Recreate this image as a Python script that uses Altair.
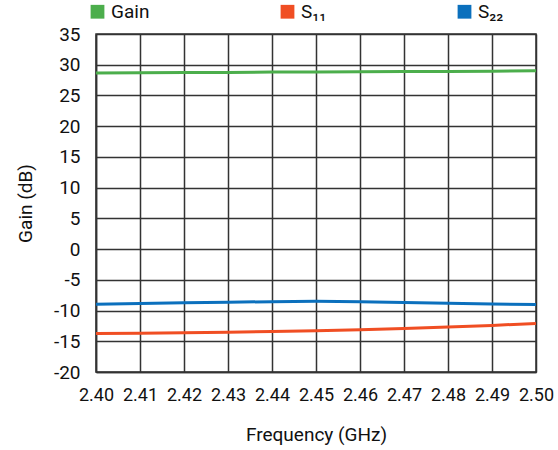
import altair as alt
import pandas as pd

freq = [2.40, 2.41, 2.42, 2.43, 2.44, 2.45, 2.46, 2.47, 2.48, 2.49, 2.50]
gain = [28.65, 28.7, 28.72, 28.75, 28.8, 28.82, 28.85, 28.88, 28.9, 28.95, 29.0]
s11 = [-13.75, -13.7, -13.62, -13.52, -13.42, -13.28, -13.12, -12.92, -12.68, -12.42, -12.1]
s22 = [-8.97, -8.85, -8.75, -8.65, -8.55, -8.5, -8.55, -8.68, -8.82, -8.95, -9.02]

series_names = ["Gain", "S₁₁", "S₂₂"]
colors = ["#4cae4c", "#f04e23", "#0b70bd"]
x_ticks = [2.40, 2.41, 2.42, 2.43, 2.44, 2.45, 2.46, 2.47, 2.48, 2.49, 2.50]
y_ticks = [35, 30, 25, 20, 15, 10, 5, 0, -5, -10, -15, -20]

rows = []
for name, vals in zip(series_names, [gain, s11, s22]):
    for f, v in zip(freq, vals):
        rows.append({"Frequency": f, "Value": v, "Series": name})
df = pd.DataFrame(rows)

FONT = "Roboto, sans-serif"

x_enc = alt.X("Frequency:Q",
              scale=alt.Scale(domain=[2.40, 2.50], nice=False, zero=False),
              axis=alt.Axis(values=x_ticks, format=".2f", title="Frequency (GHz)",
                            ticks=False, labelPadding=14, titlePadding=21,
                            labelOverlap=False, labelFlush=False, labelFontSize=18))
y_enc = alt.Y("Value:Q",
              scale=alt.Scale(domain=[-20, 35], nice=False),
              axis=alt.Axis(values=y_ticks, title="Gain (dB)", ticks=False,
                            labelPadding=16, titlePadding=18, labelOverlap=False,
                            labelFlush=False,
                            labelExpr="replace(datum.label, '−', '-')"))

lines = alt.Chart(df).mark_line(strokeWidth=3).encode(
    x=x_enc,
    y=y_enc,
    stroke=alt.Stroke("Series:N",
                      scale=alt.Scale(domain=series_names, range=colors),
                      legend=None),
    order=alt.Order("Frequency:Q"),
)

legend_layer = alt.Chart(df).transform_filter("datum.Frequency < 0").mark_point(
    shape="square", filled=True, size=180
).encode(
    x=x_enc,
    y=y_enc,
    fill=alt.Fill("Series:N",
                  scale=alt.Scale(domain=series_names, range=colors),
                  legend=alt.Legend(title=None, orient="none", direction="horizontal",
                                    legendX=-8, legendY=-32, columns=3,
                                    columnPadding=128, symbolType="square",
                                    symbolSize=190, symbolStrokeWidth=0,
                                    symbolOpacity=1,
                                    labelFontSize=19, labelFont=FONT,
                                    labelColor="#111", labelOffset=4)),
)

chart = alt.layer(lines, legend_layer).resolve_scale(fill="independent", stroke="independent").properties(
    width=440, height=338,
    autosize=alt.AutoSizeParams(type="none"),
    padding={"left": 96, "top": 34, "right": 22, "bottom": 78},
).configure_axis(
    grid=True, gridColor="#333", gridWidth=1.5, gridOpacity=1,
    domainColor="#333", domainWidth=1.5,
    labelFont=FONT, labelFontSize=19, labelColor="#111",
    titleFont=FONT, titleFontSize=19, titleColor="#111", titleFontWeight="normal",
).configure_view(stroke="#333", strokeWidth=1.5)

chart.save("out.html", embed_options={"renderer": "svg", "actions": False})
